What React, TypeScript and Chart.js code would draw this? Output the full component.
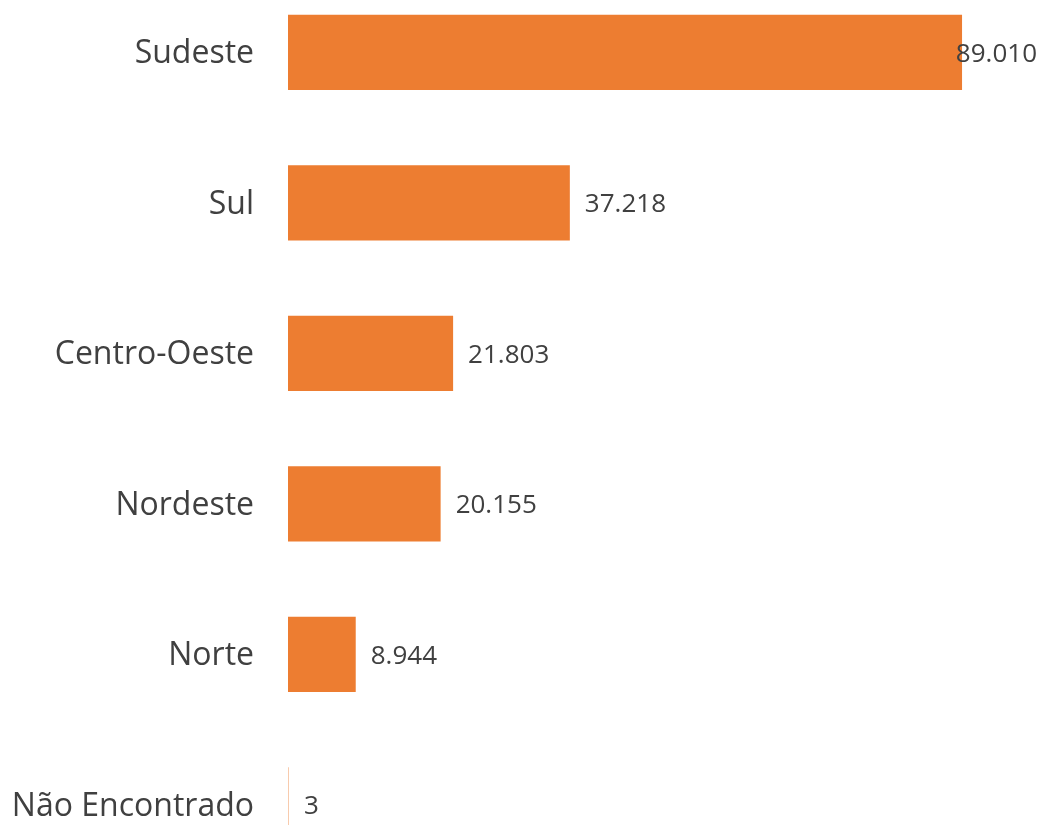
import React, { useEffect, useRef } from "react";
import { Chart, registerables } from "chart.js";

Chart.register(...registerables);

const categories = ["Sudeste", "Sul", "Centro-Oeste", "Nordeste", "Norte", "Não Encontrado"];
const values = [89010, 37218, 21803, 20155, 8944, 3];
const valueLabels = ["89.010", "37.218", "21.803", "20.155", "8.944", "3"];

const BAR_COLOR = "#ED7D31";
const TEXT_COLOR = "#404040";

const valueLabelPlugin = {
  id: "valueLabels",
  afterDatasetsDraw(chart: any) {
    const ctx = chart.ctx;
    const meta = chart.getDatasetMeta(0);
    ctx.save();
    ctx.font = "26px 'Open Sans'";
    ctx.fillStyle = TEXT_COLOR;
    ctx.textBaseline = "middle";
    ctx.textAlign = "left";
    meta.data.forEach((el: any, i: number) => {
      const text = valueLabels[i];
      const w = ctx.measureText(text).width;
      const x = Math.min(el.x + 15, chart.width - 6 - w);
      ctx.fillText(text, x, el.y + 2);
    });
    ctx.restore();
  },
};

export default function App() {
  const ref = useRef<HTMLCanvasElement>(null);
  useEffect(() => {
    document.body.style.margin = "0";
    const chart = new Chart(ref.current!, {
      type: "bar",
      data: {
        labels: categories,
        datasets: [
          {
            data: values,
            backgroundColor: (c: any) => (c.raw < 100 ? "rgba(237,125,49,0.4)" : BAR_COLOR),
            barPercentage: 0.5,
            categoryPercentage: 1,
            minBarLength: 1,
          },
        ],
      },
      options: {
        indexAxis: "y",
        animation: false,
        responsive: false,
        maintainAspectRatio: false,
        layout: { padding: { top: 1, bottom: 0, left: 0, right: 0 } },
        plugins: { legend: { display: false }, tooltip: { enabled: false } },
        scales: {
          x: { display: false, min: 0, max: 99700 },
          y: {
            grid: { display: false, drawTicks: false },
            border: { display: false },
            ticks: {
              padding: 34,
              labelOffset: 2,
              color: TEXT_COLOR,
              font: { family: "'Open Sans'", size: 32 },
            },
            afterFit(scale: any) {
              scale.width = 288;
              scale.paddingTop = 0;
              scale.paddingBottom = 0;
            },
          },
        },
      },
      plugins: [valueLabelPlugin],
    });
    return () => chart.destroy();
  }, []);
  return (
    <div style={{ position: "fixed", left: 0, top: 0, width: 1043, height: 825, overflow: "hidden", background: "#fff" }}>
      <canvas ref={ref} width={1043} height={904} style={{ position: "absolute", left: 0, top: -24, width: 1043, height: 904 }} />
    </div>
  );
}
